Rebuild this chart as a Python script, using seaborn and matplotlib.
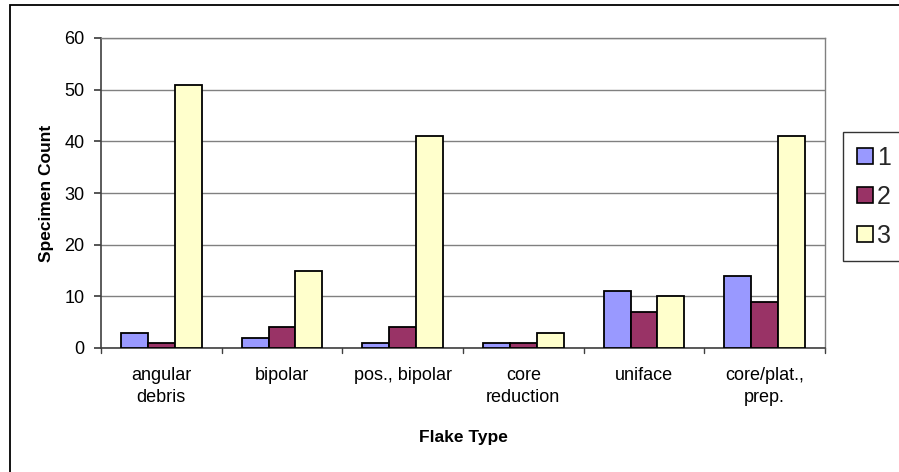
import matplotlib
matplotlib.use("Agg")
import matplotlib.pyplot as plt
import seaborn as sns
import pandas as pd
from matplotlib.patches import Rectangle

categories = ["angular\ndebris", "bipolar", "pos., bipolar", "core\nreduction", "uniface", "core/plat.,\nprep."]
series_names = ["1", "2", "3"]
s1 = [3, 2, 1, 1, 11, 14]
s2 = [1, 4, 4, 1, 7, 9]
s3 = [51, 15, 41, 3, 10, 41]
colors = ["#9999FF", "#993366", "#FFFFCC"]

rows = []
for name, vals in zip(series_names, [s1, s2, s3]):
    for c, v in zip(categories, vals):
        rows.append({"Flake Type": c, "series": name, "count": v})
df = pd.DataFrame(rows)

sns.set_theme(style="white")
plt.rcParams['font.family'] = ['Liberation Sans', 'DejaVu Sans']

fig = plt.figure(figsize=(8.99, 4.72), dpi=100)
ax = fig.add_axes([101/899, 1-348/472, (825-101)/899, (348-38)/472])

sns.barplot(data=df, x="Flake Type", y="count", hue="series", palette=colors,
            order=categories, hue_order=series_names, width=0.67,
            edgecolor="black", linewidth=1.3, saturation=1, ax=ax, zorder=3)

ax.set_ylim(0, 60)
ax.set_xlim(-0.5, len(categories) - 0.5)
ax.set_yticks(range(0, 61, 10))
ax.yaxis.grid(True, color="#808080", linewidth=1, zorder=0)
ax.set_axisbelow(True)
ax.tick_params(axis="y", labelsize=13, length=5, direction="out", left=True,
               color="#404040", pad=7, labelcolor="black")
ax.set_xticks(range(len(categories)))
ax.set_xticklabels(categories, fontsize=13, linespacing=1.35, color="black")
ax.tick_params(axis="x", length=0, pad=14)
# group-boundary tick marks (Excel style)
for b in range(len(categories) + 1):
    ax.plot([b - 0.5, b - 0.5], [0, -1.0], color="#404040", lw=1, clip_on=False)

for s in ["top", "right"]:
    ax.spines[s].set_color("#808080")
    ax.spines[s].set_linewidth(1)
for s in ["left", "bottom"]:
    ax.spines[s].set_color("#404040")
    ax.spines[s].set_linewidth(1.2)

ax.set_ylabel("Specimen Count", fontsize=12.5, fontweight="bold", labelpad=7, color="black")
ax.set_xlabel("Flake Type", fontsize=12.5, fontweight="bold", labelpad=17, color="black")

leg = ax.legend(loc="upper left", bbox_to_anchor=(843/899, 1-132/472),
                bbox_transform=fig.transFigure, frameon=True,
                fontsize=18, handlelength=0.66, handleheight=0.66, handletextpad=0.15,
                labelspacing=0.6, borderpad=0.55, borderaxespad=0, fancybox=False,
                edgecolor="black")
leg.get_frame().set_linewidth(1)
for h in leg.legend_handles:
    h.set_edgecolor("black")
    h.set_linewidth(1.2)

fig.patches.append(Rectangle((10/899, -0.1), 1.0, 1 - 5/472 + 0.1,
                             transform=fig.transFigure, fill=False, edgecolor="black",
                             linewidth=1.3, clip_on=False))

fig.savefig("out.png", dpi=100)
